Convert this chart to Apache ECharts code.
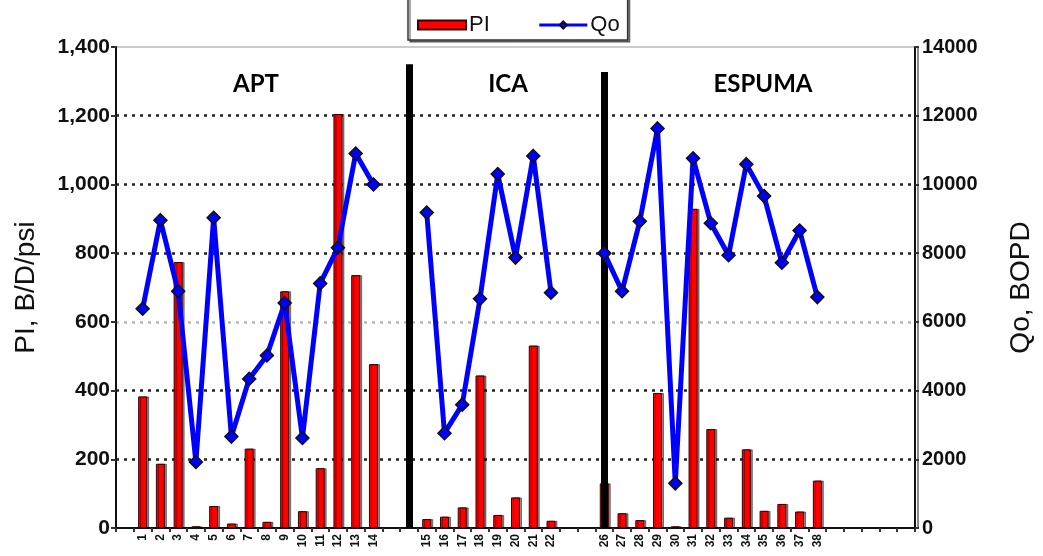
<!DOCTYPE html>
<html>
<head>
<meta charset="utf-8">
<script src="https://cdn.jsdelivr.net/npm/echarts@6/dist/echarts.min.js"></script>
<style>
html,body{margin:0;padding:0;background:#fff;}
#chart{width:1043px;height:556px;}
</style>
</head>
<body>
<div id="chart"></div>
<script>
// ---- data ----
const aptWells = ['1','2','3','4','5','6','7','8','9','10','11','12','13','14'];
const aptPI = [383, 187, 774, 5, 64, 13, 231, 18, 689, 49, 174, 1205, 736, 477];
const aptQo = [6380, 8960, 6890, 1920, 9030, 2660, 4340, 5020, 6550, 2620, 7120, 8160, 10900, 10000];

const icaWells = ['15','16','17','18','19','20','21','22'];
const icaPI = [26, 33, 60, 444, 38, 89, 531, 21];
const icaQo = [9180, 2760, 3590, 6670, 10300, 7870, 10830, 6850];

const espWells = ['26','27','28','29','30','31','32','33','34','35','36','37','38'];
const espPI = [130, 43, 23, 393, 5, 929, 288, 30, 229, 50, 70, 48, 138];
const espQo = [8000, 6890, 8930, 11630, 1300, 10760, 8870, 7940, 10590, 9660, 7720, 8660, 6720];

const groupNames = ['APT', 'ICA', 'ESPUMA'];
const piTicks = [0, 200, 400, 600, 800, 1000, 1200, 1400];
const qoTicks = [0, 2000, 4000, 6000, 8000, 10000, 12000, 14000];
const sepTops = [1350, 1327];

// ---- build category slots ----
const categories = [];
const piData = [];
const qoData = [];
function addBlank(n){ for(let i=0;i<n;i++){ categories.push(''); piData.push(null); qoData.push(null);} }
function addGroup(w, p, q){ for(let i=0;i<w.length;i++){ categories.push(w[i]); piData.push(p[i]); qoData.push(q[i]); } }
addBlank(1);
addGroup(aptWells, aptPI, aptQo);
addBlank(1);
const sep1 = categories.length;
addBlank(1);
addGroup(icaWells, icaPI, icaQo);
addBlank(2);
const sep2 = categories.length;
addGroup(espWells, espPI, espQo);
addBlank(5);

const chart = echarts.init(document.getElementById('chart'));
const labelFont = 'Liberation Sans, Arial, sans-serif';
// split lines drawn for inner ticks only (200..1200)
const gridColors = piTicks.slice(1, -1).map(v => v === 600 ? '#b8b8b8' : '#222');

chart.setOption({
  animation: false,
  backgroundColor: '#fff',
  grid: { left: 116, right: 120, top: 47, bottom: 28, show: true, borderColor: '#999', borderWidth: 1 },
  legend: {
    data: [
      { name: 'PI', icon: 'rect' },
      { name: 'Qo', lineStyle: { width: 3 } }
    ],
    left: 408, top: -14,
    padding: [28, 8, 4, 9],
    itemWidth: 48, itemHeight: 9, itemGap: 48,
    borderColor: '#333', borderWidth: 1.5,
    shadowColor: 'rgba(0,0,0,0.45)', shadowOffsetX: 2, shadowOffsetY: 2, shadowBlur: 0,
    backgroundColor: '#fff',
    textStyle: { fontFamily: labelFont, fontSize: 22, color: '#111', padding: [0,0,0,-2] }
  },
  xAxis: {
    type: 'category',
    data: categories,
    boundaryGap: true,
    axisLine: { lineStyle: { color: '#111', width: 2 } },
    axisTick: { show: true, interval: 0, length: 4, lineStyle: { color: '#333', width: 2 } },
    axisLabel: { interval: 0, rotate: 90, fontFamily: labelFont, fontSize: 12, fontWeight: 'bold', color: '#111', margin: 6 },
    splitLine: { show: false }
  },
  yAxis: [
    {
      type: 'value', min: piTicks[0], max: piTicks[piTicks.length-1], interval: piTicks[1]-piTicks[0],
      position: 'left',
      name: 'PI, B/D/psi', nameLocation: 'middle', nameRotate: 90, nameGap: 76,
      nameTextStyle: { fontFamily: labelFont, fontSize: 28, color: '#111' },
      axisLine: { show: true, lineStyle: { color: '#111', width: 2 } },
      axisTick: { show: true, length: 5, lineStyle: { color: '#333', width: 2 } },
      axisLabel: {
        fontFamily: labelFont, fontSize: 21, fontWeight: 'bold', color: '#111', margin: 6,
        formatter: v => String(v).replace(/\B(?=(\d{3})+(?!\d))/g, ',')
      },
      splitLine: { show: true, showMinLine: false, showMaxLine: false, lineStyle: { color: gridColors, width: 2.5, type: [3, 5] } }
    },
    {
      type: 'value', min: qoTicks[0], max: qoTicks[qoTicks.length-1], interval: qoTicks[1]-qoTicks[0],
      position: 'right',
      name: 'Qo, BOPD', nameLocation: 'middle', nameRotate: 90, nameGap: 92,
      nameTextStyle: { fontFamily: labelFont, fontSize: 28, color: '#111' },
      axisLine: { show: true, lineStyle: { color: '#111', width: 2, shadowColor: '#8a8a8a', shadowOffsetX: 3 } },
      axisTick: { show: true, length: 4, lineStyle: { color: '#333', width: 2 } },
      axisLabel: { fontFamily: labelFont, fontSize: 20, fontWeight: 'bold', color: '#111', margin: 7, formatter: v => String(v) },
      splitLine: { show: false }
    }
  ],
  graphic: [
    { type: 'text', x: 256, y: 84, style: { text: groupNames[0], font: 'bold 24px Lato, "Open Sans", sans-serif', fill: '#000', textAlign: 'center', textVerticalAlign: 'middle' } },
    { type: 'text', x: 508, y: 84, style: { text: groupNames[1], font: 'bold 24px Lato, "Open Sans", sans-serif', fill: '#000', textAlign: 'center', textVerticalAlign: 'middle' } },
    { type: 'text', x: 763, y: 84, style: { text: groupNames[2], font: 'bold 24px Lato, "Open Sans", sans-serif', fill: '#000', textAlign: 'center', textVerticalAlign: 'middle' } }
  ],
  series: [
    {
      name: 'PI', type: 'bar', yAxisIndex: 0, data: piData, barWidth: 9, z: 2,
      itemStyle: { color: '#ff0000', borderColor: '#3a0000', borderWidth: 1, shadowColor: 'rgba(0,0,0,0.45)', shadowOffsetX: 2, shadowBlur: 0 },
      markLine: {
        silent: true, symbol: ['none', 'none'], label: { show: false },
        lineStyle: { color: '#000', width: 7, type: 'solid' },
        data: [
          [{ coord: [sep1, sepTops[0]] }, { coord: [sep1, 0] }],
          [{ coord: [sep2, sepTops[1]] }, { coord: [sep2, 0] }]
        ]
      }
    },
    {
      name: 'Qo', type: 'line', yAxisIndex: 1, data: qoData, z: 5, connectNulls: false,
      lineStyle: { color: '#0000ff', width: 5 },
      symbol: 'diamond', symbolSize: 13,
      itemStyle: { color: '#0000ff', borderColor: '#111', borderWidth: 1.5 }
    }
  ]
});
</script>
</body>
</html>
